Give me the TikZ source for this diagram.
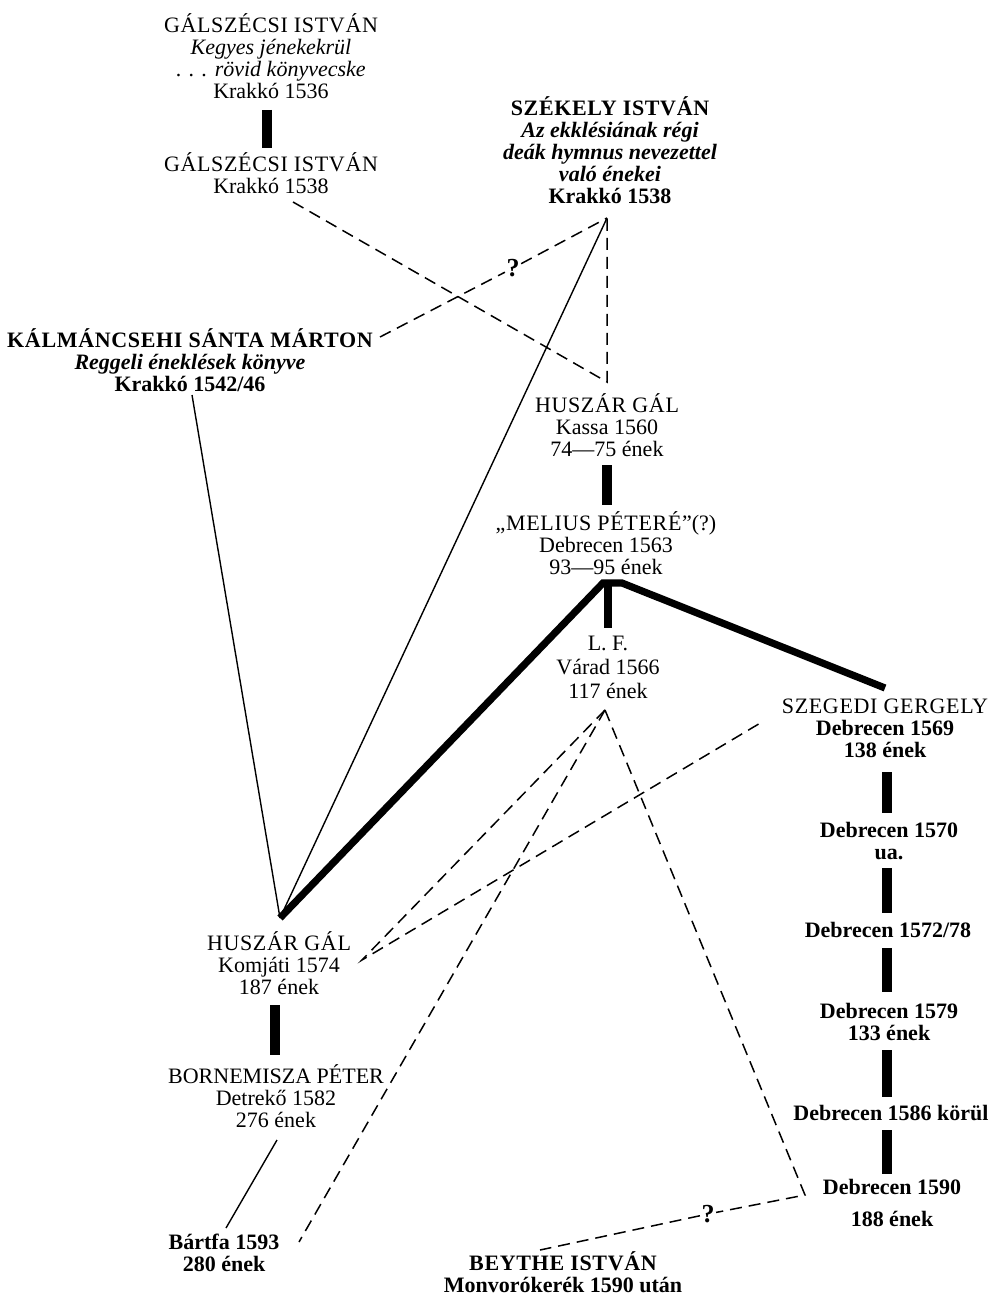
\documentclass[tikz,border=0pt]{standalone}
\usepackage{fontspec}
\setmainfont{Liberation Serif}
\newfontfamily\capsfont[LetterSpace=3]{Liberation Serif}
\begin{document}
\begin{tikzpicture}[x=0.5pt,y=-0.5pt,
  txt/.style={align=center, inner sep=0pt, anchor=base, font=\fontsize{11}{11}\selectfont},
  txb/.style={txt, font=\fontsize{11}{11}\selectfont\bfseries},
  bar/.style={line width=5pt},
  heavy/.style={line width=3.6pt, line join=miter},
  thin/.style={line width=0.7pt},
  dsh/.style={line width=0.75pt, dash pattern=on 6pt off 3.5pt},
  qmark/.style={inner sep=0.6pt, font=\fontsize{13}{13}\selectfont\bfseries}]
\useasboundingbox (0,0) rectangle (995,1299);

% book entries (anchored at the baseline of their last line)
\node[txt] (gal1) at (271,99) {{\capsfont GÁLSZÉCSI ISTVÁN}\\ \textit{Kegyes jénekekrül}\\ \textit{. . . rövid könyvecske}\\ Krakkó 1536};
\node[txt] (gal2) at (271,194) {{\capsfont GÁLSZÉCSI ISTVÁN}\\ Krakkó 1538};
\node[txb] (szek) at (610,204) {{\capsfont SZÉKELY ISTVÁN}\\ \textit{Az ekklésiának régi}\\ \textit{deák hymnus nevezettel}\\ \textit{való énekei}\\ Krakkó 1538};
\node[txb] (kalm) at (190,391) {{\capsfont KÁLMÁNCSEHI SÁNTA MÁRTON}\\ \textit{Reggeli éneklések könyve}\\ Krakkó 1542/46};
\node[txt] (kassa) at (607,456) {{\capsfont HUSZÁR GÁL}\\ Kassa 1560\\ 74—75 ének};
\node[txt] (melius) at (606,574) {{\capsfont „MELIUS PÉTERÉ”}(?)\\ Debrecen 1563\\ 93—95 ének};
\node[txt] (lf) at (608,698) {L. F.\\[1pt] Várad 1566\\[1pt] 117 ének};
\node[txt] (szeg) at (885,757) {{\capsfont SZEGEDI GERGELY}\\ \textbf{Debrecen 1569}\\ \textbf{138 ének}};
\node[txb] (d1570) at (889,859) {Debrecen 1570\\ ua.};
\node[txb] (d1572) at (888,937) {Debrecen 1572/78};
\node[txb] (d1579) at (889,1040) {Debrecen 1579\\ 133 ének};
\node[txb] (d1586) at (891,1120) {Debrecen 1586 körül};
\node[txb] (d1590) at (892,1226) {Debrecen 1590\\[5pt] 188 ének};
\node[txt] (komj) at (279,994) {{\capsfont HUSZÁR GÁL}\\ Komjáti 1574\\ 187 ének};
\node[txt] (born) at (276,1127) {BORNEMISZA PÉTER\\ Detrekő 1582\\ 276 ének};
\node[txb] (bartfa) at (224,1271) {Bártfa 1593\\ 280 ének};
\node[txb] (beythe) at (563,1292) {{\capsfont BEYTHE ISTVÁN}\\ Monvorókerék 1590 után};

% joints of the connectors
\coordinate (gal1-b) at (267,110);
\coordinate (gal2-t) at (267,148);
\coordinate (gal2-e) at (293,202);
\coordinate (szek-a) at (607,218);
\coordinate (kassa-t) at (607,382);
\coordinate (kalm-e) at (380,337);
\coordinate (kalm-s) at (192,395);
\coordinate (komj-a) at (280,918);
\coordinate (kassa-b) at (607,465);
\coordinate (mel-t) at (607,505);
\coordinate (mel-a) at (603,583);
\coordinate (mel-a2) at (622,583);
\coordinate (mel-b) at (608,583);
\coordinate (lf-t) at (608,628);
\coordinate (szeg-t) at (885,688);
\coordinate (lf-a) at (605,710);
\coordinate (komj-e) at (362,960);
\coordinate (szeg-e) at (762,722);
\coordinate (bart-e) at (299,1242);
\coordinate (d1590-c) at (805,1195);
\coordinate (beythe-e) at (540,1250);
\coordinate (born-s) at (277,1140);
\coordinate (bart-t) at (226,1228);
\coordinate (komj-b) at (275,1005);
\coordinate (born-t) at (275,1055);

% question marks on the uncertain links
\node[qmark] (q1) at (513,268) {?};
\node[qmark] (q2) at (708,1214) {?};

% direct descent (heavy bars)
\draw[bar] (gal1-b) -- (gal2-t);
\draw[bar] (kassa-b) -- (mel-t);
\draw[bar] (komj-b) -- (born-t);
\draw[line width=4pt] (mel-b) -- (lf-t);
\draw[bar] (887,772) coordinate (s1) -- (887,813) coordinate (s2);
\draw[bar] (887,868) coordinate (s3) -- (887,913) coordinate (s4);
\draw[bar] (887,948) coordinate (s5) -- (887,992) coordinate (s6);
\draw[bar] (887,1050) coordinate (s7) -- (887,1097) coordinate (s8);
\draw[bar] (887,1130) coordinate (s9) -- (887,1174) coordinate (s10);

% main line from Melius
\draw[heavy] (komj-a) -- (mel-a) -- (mel-a2) -- (szeg-t);

% thin solid links
\draw[thin] (szek-a) -- (komj-a);
\draw[thin] (kalm-s) -- (komj-a);
\draw[thin] (born-s) -- (bart-t);

% dashed links
\draw[dsh] (gal2-e) -- (kassa-t) -- (szek-a);
\draw[dsh] (kalm-e) -- (q1) -- (szek-a);
\draw[dsh] (lf-a) -- (komj-e) -- (szeg-e);
\draw[dsh] (lf-a) -- (bart-e);
\draw[dsh] (lf-a) -- (d1590-c) -- (q2) -- (beythe-e);
\end{tikzpicture}
\end{document}
